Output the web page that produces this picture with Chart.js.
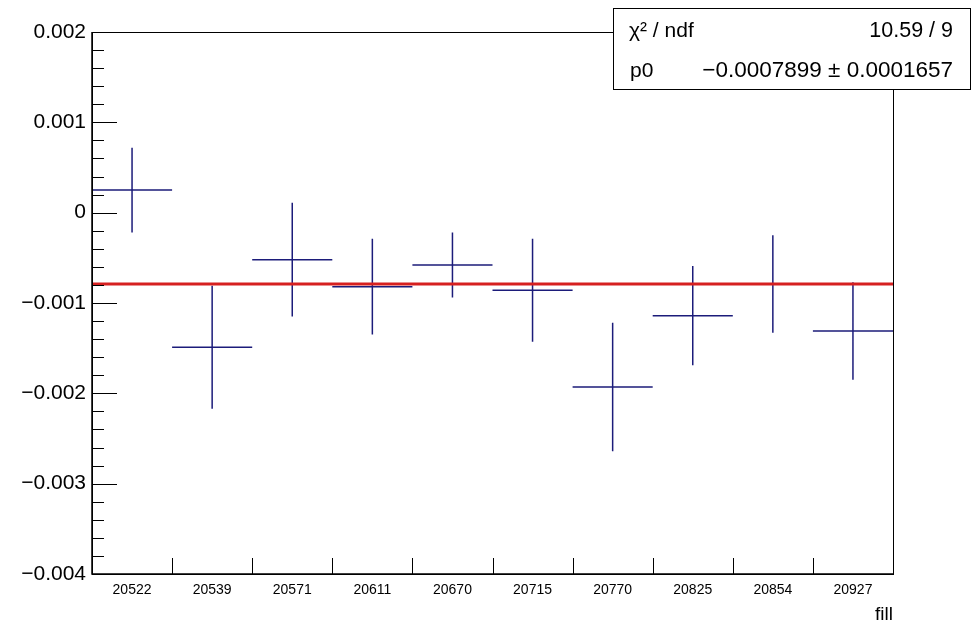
<!DOCTYPE html>
<html>
<head>
<meta charset="utf-8">
<script src="https://cdn.jsdelivr.net/npm/chart.js@4/dist/chart.umd.min.js"></script>
<style>
html,body{margin:0;padding:0;background:#fff;}
#wrap{width:972px;height:622px;}
</style>
</head>
<body>
<div id="wrap"><canvas id="c" width="972" height="622"></canvas></div>
<script>
// ---- data ----
const categories = ['20522','20539','20571','20611','20670','20715','20770','20825','20854','20927'];
const values = [0.00025, -0.00149, -0.00052, -0.00082, -0.00058, -0.00086, -0.00193, -0.00114, -0.00079, -0.00131];
const errors = [0.00047, 0.00068, 0.00063, 0.00053, 0.00036, 0.00057, 0.00071, 0.00055, 0.00054, 0.00054];
const fitValue = -0.0007899;
const fitError = 0.0001657;
const chi2Text = '10.59 / 9';
const yTicks = [0.002, 0.001, 0, -0.001, -0.002, -0.003, -0.004];
const xTitle = 'fill';

// ---- build datasets from data ----
const hSegs = [];
const vSegs = [];
categories.forEach((c, i) => {
  hSegs.push({x: i, y: values[i]}, {x: i + 1, y: values[i]}, {x: i + 1, y: null});
  vSegs.push({x: i + 0.5, y: values[i] - errors[i]}, {x: i + 0.5, y: values[i] + errors[i]}, {x: i + 0.5, y: null});
});
const fitLine = [{x: 0, y: fitValue}, {x: categories.length, y: fitValue}];

const FONT = '"Liberation Sans", Arial, Helvetica, sans-serif';
const ERR_COLOR = '#1c1c7a';

function fmtY(v) {
  if (Math.abs(v) < 1e-12) return '0';
  return (v < 0 ? '\u2212' : '') + Math.abs(v).toFixed(3);
}

const rootPlugin = {
  id: 'rootStyle',
  afterDraw(chart) {
    const ctx = chart.ctx;
    const a = chart.chartArea;
    const xs = chart.scales.x, ys = chart.scales.y;
    ctx.save();
    ctx.strokeStyle = '#000';
    ctx.lineWidth = 1;
    // frame
    ctx.strokeRect(Math.round(a.left) + 0.5, Math.round(a.top) + 0.5, Math.round(a.right - a.left), Math.round(a.bottom - a.top));
    ctx.beginPath();
    ctx.lineWidth = 1.5;
    ctx.moveTo(a.left, a.top); ctx.lineTo(a.left, a.bottom);
    ctx.lineTo(a.right, a.bottom);
    ctx.stroke();
    ctx.lineWidth = 1;
    // y ticks (inward)
    ctx.beginPath();
    const yMin = ys.min, yMax = ys.max;
    const minorStep = 0.0002;
    const nMinor = Math.round((yMax - yMin) / minorStep);
    for (let k = 0; k <= nMinor; k++) {
      const v = yMin + k * minorStep;
      const py = Math.round(ys.getPixelForValue(v)) + 0.5;
      const major = (k % 5 === 0);
      ctx.moveTo(a.left, py);
      ctx.lineTo(a.left + (major ? 25 : 12), py);
    }
    // x ticks at bin edges (upward)
    for (let i = 1; i < categories.length; i++) {
      const px = Math.round(xs.getPixelForValue(i)) + 0.5;
      ctx.moveTo(px, a.bottom);
      ctx.lineTo(px, a.bottom - 16);
    }
    ctx.stroke();

    // x title
    ctx.fillStyle = '#000';
    ctx.font = '19px ' + FONT;
    ctx.textAlign = 'right';
    ctx.textBaseline = 'alphabetic';
    ctx.fillText(xTitle, a.right, 620);

    // stats box
    const bx = 613.5, by = 8.5, bw = 357, bh = 81;
    ctx.fillStyle = '#fff';
    ctx.fillRect(bx, by, bw, bh);
    ctx.strokeRect(bx, by, bw, bh);
    ctx.fillStyle = '#000';
    ctx.font = '21px ' + FONT;
    ctx.textAlign = 'left';
    ctx.fillText('\u03c7\u00b2 / ndf', 629, 37);
    ctx.fillText('p0', 630, 77);
    ctx.textAlign = 'right';
    ctx.font = '21.5px ' + FONT;
    ctx.fillText(chi2Text, 953, 37);
    ctx.font = '22.5px ' + FONT;
    ctx.fillText('\u2212' + Math.abs(fitValue).toFixed(7) + ' \u00b1 ' + fitError.toFixed(7), 953, 77);
    ctx.restore();
  }
};

new Chart(document.getElementById('c'), {
  type: 'line',
  data: {
    datasets: [
      {data: fitLine, borderColor: '#d62020', borderWidth: 3, pointRadius: 0, order: 0},
      {data: hSegs, borderColor: ERR_COLOR, borderWidth: 1.5, pointRadius: 0, spanGaps: false, order: 1},
      {data: vSegs, borderColor: ERR_COLOR, borderWidth: 1.5, pointRadius: 0, spanGaps: false, order: 1}
    ]
  },
  options: {
    responsive: false,
    animation: false,
    events: [],
    layout: {padding: {top: 32, right: 79, left: 0, bottom: 0}},
    plugins: {legend: {display: false}, tooltip: {enabled: false}, title: {display: false}},
    scales: {
      x: {
        type: 'linear', min: 0, max: categories.length,
        grid: {display: false, drawTicks: false},
        border: {display: false},
        afterBuildTicks: s => { s.ticks = categories.map((c, i) => ({value: i + 0.5})); },
        afterFit: s => { s.height = 48; },
        ticks: {
          autoSkip: false, maxRotation: 0, minRotation: 0, padding: 8,
          color: '#000', font: {family: FONT, size: 14},
          callback: v => categories[Math.floor(v)]
        }
      },
      y: {
        type: 'linear', min: yTicks[yTicks.length - 1], max: yTicks[0],
        grid: {display: false, drawTicks: false},
        border: {display: false},
        afterBuildTicks: s => { s.ticks = yTicks.map(v => ({value: v})); },
        afterFit: s => { s.width = 92; },
        ticks: {
          padding: 6, color: '#000', font: {family: FONT, size: 21},
          callback: v => fmtY(v)
        }
      }
    }
  },
  plugins: [rootPlugin]
});
</script>
</body>
</html>
